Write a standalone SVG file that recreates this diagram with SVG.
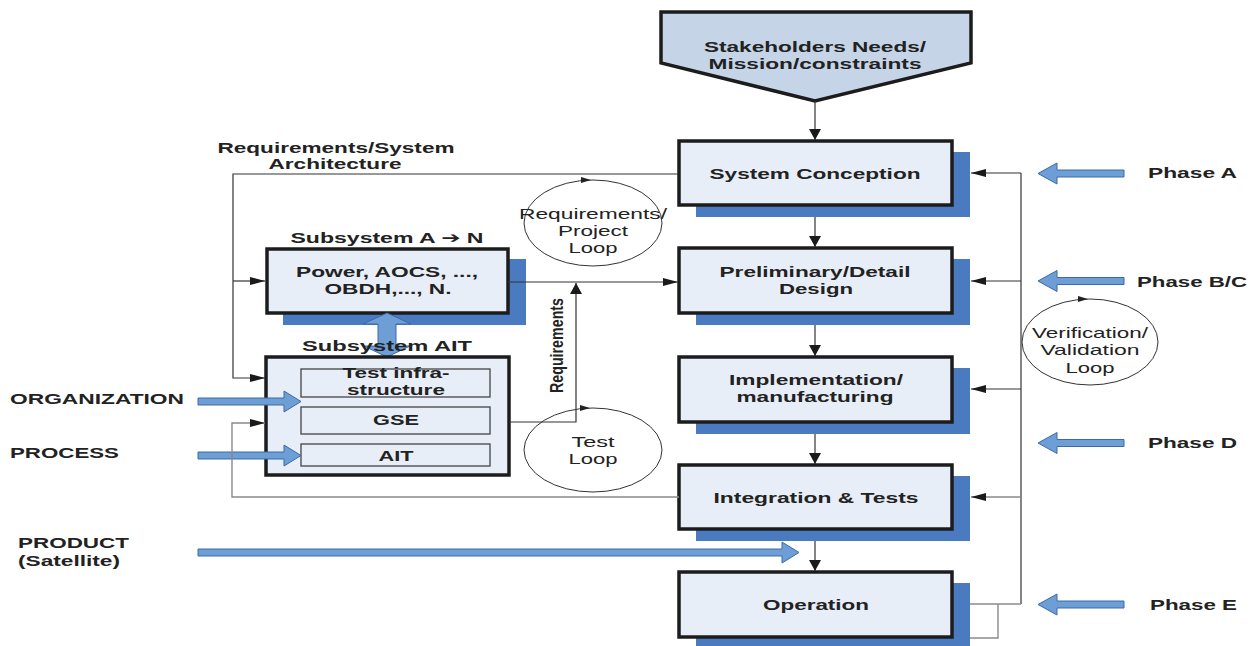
<svg xmlns="http://www.w3.org/2000/svg" width="1255" height="646" viewBox="0 0 1255 646">
<style>
.b{font-family:"Liberation Sans",Arial,sans-serif;font-weight:bold;font-size:15px;fill:#222;text-anchor:middle}
.r{font-family:"Liberation Sans",Arial,sans-serif;font-size:15px;fill:#222;text-anchor:middle}
.st{text-anchor:start}
.box{fill:#e8eef7;stroke:#1c1c1c;stroke-width:3.5}
.sh{fill:#4a7abf}
.inner{fill:#e8eef7;stroke:#444;stroke-width:1.3}
.blk{fill:#6d9ed6;stroke:#3d6aa6;stroke-width:1}
.ln{fill:none;stroke:#333;stroke-width:1.2}
.gr{fill:none;stroke:#8a8a8a;stroke-width:1.4}
.loop{fill:none;stroke:#333;stroke-width:1}
.tri{fill:#222}
</style>
<defs>
<marker id="ah" markerWidth="12" markerHeight="12" refX="11" refY="6" orient="auto" markerUnits="userSpaceOnUse"><path d="M0,0 L11,6 L0,12 Z" fill="#1a1a1a"/></marker>
<marker id="as" markerWidth="15" markerHeight="8" refX="15" refY="4" orient="auto" markerUnits="userSpaceOnUse"><path d="M0,0 L15,4 L0,8 Z" fill="#1a1a1a"/></marker>
<path id="larrow" d="M0,0 L19,-10.5 L19,-3.5 L86,-3.5 L86,3.5 L19,3.5 L19,10.5 Z"/>
</defs>

<g id="stakeholders">
<path d="M661,12 L971,12 L971,63 L815,101 L661,63 Z" fill="#c5d5e7" stroke="#1c1c1c" stroke-width="3.5"/>
<text class="b" x="815" y="52" textLength="222" lengthAdjust="spacingAndGlyphs">Stakeholders Needs/</text>
<text class="b" x="815" y="69" textLength="213" lengthAdjust="spacingAndGlyphs">Mission/constraints</text>
</g>

<g id="system-conception">
<rect class="sh" x="696" y="152" width="274" height="65"/>
<rect class="box" x="679" y="141" width="273" height="64"/>
<text class="b" x="815" y="179" textLength="211" lengthAdjust="spacingAndGlyphs">System Conception</text>
</g>

<g id="preliminary-design">
<rect class="sh" x="696" y="259" width="274" height="66"/>
<rect class="box" x="679" y="248" width="273" height="65"/>
<text class="b" x="815" y="277" textLength="191" lengthAdjust="spacingAndGlyphs">Preliminary/Detail</text>
<text class="b" x="816" y="294" textLength="74" lengthAdjust="spacingAndGlyphs">Design</text>
</g>

<g id="implementation">
<rect class="sh" x="696" y="368" width="274" height="66"/>
<rect class="box" x="679" y="357" width="273" height="65"/>
<text class="b" x="816" y="385" textLength="174" lengthAdjust="spacingAndGlyphs">Implementation/</text>
<text class="b" x="815" y="402" textLength="157" lengthAdjust="spacingAndGlyphs">manufacturing</text>
</g>

<g id="integration-tests">
<rect class="sh" x="696" y="476" width="274" height="65"/>
<rect class="box" x="679" y="465" width="273" height="64"/>
<text class="b" x="816" y="503" textLength="205" lengthAdjust="spacingAndGlyphs">Integration &amp; Tests</text>
</g>

<g id="operation">
<rect class="sh" x="696" y="583" width="274" height="65"/>
<rect class="box" x="679" y="572" width="273" height="65"/>
<text class="b" x="816" y="610" textLength="106" lengthAdjust="spacingAndGlyphs">Operation</text>
</g>

<g id="subsystem-a-n">
<text class="b" x="387" y="243" textLength="193" lengthAdjust="spacingAndGlyphs">Subsystem A <tspan style="font-family:'DejaVu Sans',sans-serif">➔</tspan> N</text>
<rect class="sh" x="283" y="259" width="243" height="66"/>
<rect class="box" x="267" y="249" width="241" height="64"/>
<text class="b" x="387" y="277" textLength="182" lengthAdjust="spacingAndGlyphs">Power, AOCS, ...,</text>
<text class="b" x="388" y="294" textLength="127" lengthAdjust="spacingAndGlyphs">OBDH,..., N.</text>
</g>

<!-- double vertical block arrow -->
<g id="subsystem-link">
<path class="blk" d="M387,313 L411,324 L396,324 L396,346 L410,346 L387,357 L364,346 L378,346 L378,324 L363,324 Z"/>
</g>

<g id="subsystem-ait">
<rect class="box" x="266" y="357" width="243" height="118"/>
<text class="b" x="387" y="351" textLength="170" lengthAdjust="spacingAndGlyphs">Subsystem  AIT</text>
<rect class="inner" x="301" y="369" width="189" height="28"/>
<text class="b" x="396" y="378" textLength="107" lengthAdjust="spacingAndGlyphs">Test infra-</text>
<text class="b" x="396" y="395" textLength="98" lengthAdjust="spacingAndGlyphs">structure</text>
<rect class="inner" x="301" y="407" width="189" height="27"/>
<text class="b" x="396" y="425" textLength="46" lengthAdjust="spacingAndGlyphs">GSE</text>
<rect class="inner" x="301" y="444" width="189" height="22"/>
<text class="b" x="396" y="461" textLength="35" lengthAdjust="spacingAndGlyphs">AIT</text>
</g>

<g id="req-project-loop">
<ellipse class="loop" cx="593" cy="223" rx="69" ry="43"/>
<path class="tri" d="M581,177 L591,180 L581,183 Z"/>
<text class="r" x="593" y="219" textLength="148" lengthAdjust="spacingAndGlyphs">Requirements/</text>
<text class="r" x="593" y="236" textLength="70" lengthAdjust="spacingAndGlyphs">Project</text>
<text class="r" x="593" y="253" textLength="49" lengthAdjust="spacingAndGlyphs">Loop</text>
</g>

<g id="test-loop">
<ellipse class="loop" cx="593" cy="450" rx="69" ry="42"/>
<path class="tri" d="M580,405 L590,408 L580,411 Z"/>
<text class="r" x="593" y="447" textLength="43" lengthAdjust="spacingAndGlyphs">Test</text>
<text class="r" x="593" y="464" textLength="49" lengthAdjust="spacingAndGlyphs">Loop</text>
</g>

<g id="verification-loop">
<ellipse class="loop" cx="1090" cy="342" rx="68" ry="43"/>
<path class="tri" d="M1078,296 L1088,299 L1078,302 Z"/>
<text class="r" x="1090" y="338" textLength="116" lengthAdjust="spacingAndGlyphs">Verification/</text>
<text class="r" x="1090" y="355" textLength="99" lengthAdjust="spacingAndGlyphs">Validation</text>
<text class="r" x="1090" y="373" textLength="49" lengthAdjust="spacingAndGlyphs">Loop</text>
</g>

<g id="inputs">
<text class="b st" x="10" y="404" textLength="174" lengthAdjust="spacingAndGlyphs">ORGANIZATION</text>
<path class="blk" d="M198,398 L284,398 L284,391 L301,401.5 L284,412 L284,405 L198,405 Z"/>
<text class="b st" x="10" y="458" textLength="109" lengthAdjust="spacingAndGlyphs">PROCESS</text>
<path class="blk" d="M198,452 L284,452 L284,445 L301,455.5 L284,466 L284,459 L198,459 Z"/>
<text class="b st" x="18" y="548" textLength="111" lengthAdjust="spacingAndGlyphs">PRODUCT</text>
<text class="b st" x="18" y="566" textLength="102" lengthAdjust="spacingAndGlyphs">(Satellite)</text>
<path class="blk" d="M198,549 L782,549 L782,542 L799,552.5 L782,563 L782,556 L198,556 Z"/>
</g>

<g id="phases">
<use href="#larrow" class="blk" x="1038" y="173.5"/>
<text class="b st" x="1148" y="178" textLength="89" lengthAdjust="spacingAndGlyphs">Phase A</text>
<use href="#larrow" class="blk" x="1038" y="281"/>
<text class="b st" x="1137" y="287" textLength="110" lengthAdjust="spacingAndGlyphs">Phase B/C</text>
<use href="#larrow" class="blk" x="1038" y="443"/>
<text class="b st" x="1148" y="448" textLength="89" lengthAdjust="spacingAndGlyphs">Phase D</text>
<use href="#larrow" class="blk" x="1038" y="604.5"/>
<text class="b st" x="1150" y="610" textLength="87" lengthAdjust="spacingAndGlyphs">Phase E</text>
</g>

<g id="connectors">
<path class="ln" d="M815,101 V140" marker-end="url(#ah)"/>
<path class="ln" d="M815,217 V247" marker-end="url(#ah)"/>
<path class="ln" d="M815,325 V356" marker-end="url(#ah)"/>
<path class="ln" d="M815,434 V464" marker-end="url(#ah)"/>
<path class="ln" d="M815,541 V571" marker-end="url(#ah)"/>
<path class="ln" d="M678,174 H233 V378 H265" marker-end="url(#as)"/>
<path class="ln" d="M233,281 H265" marker-end="url(#as)"/>
<path class="gr" d="M679,497 H232 V423 H265" marker-end="url(#as)"/>
<path class="ln" d="M508,282 H678" marker-end="url(#as)"/>
<path class="ln" d="M509,422 H576 V283" marker-end="url(#ah)"/>
<text class="b" transform="translate(563,345.5) scale(1.35,1) rotate(-90)" style="font-size:14px" textLength="95" lengthAdjust="spacingAndGlyphs">Requirements</text>
<path class="ln" d="M1021,173 V604"/>
<path class="ln" d="M1021,173 H971" marker-end="url(#as)"/>
<path class="ln" d="M1021,281 H971" marker-end="url(#as)"/>
<path class="ln" d="M1021,389 H971" marker-end="url(#as)"/>
<path class="gr" d="M1021,497 H971" marker-end="url(#as)"/>
<path class="gr" d="M970,604 H1021"/>
<path class="gr" d="M998,604 V638 H970"/>
<text class="b" x="336" y="153" textLength="237" lengthAdjust="spacingAndGlyphs">Requirements/System</text>
<text class="b" x="335" y="169" textLength="133" lengthAdjust="spacingAndGlyphs">Architecture</text>
</g>
</svg>
